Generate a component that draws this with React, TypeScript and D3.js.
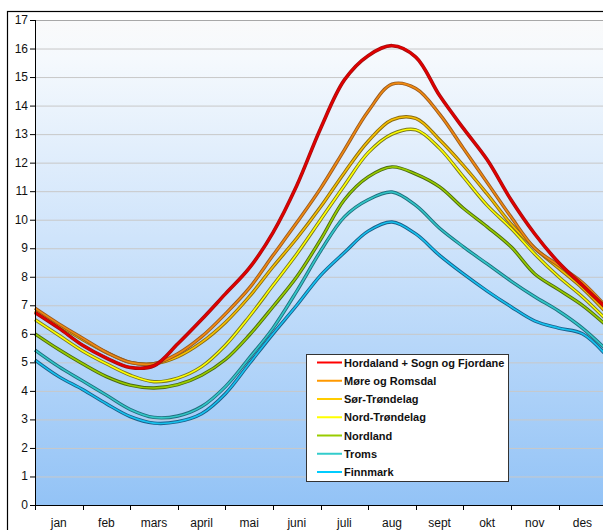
import React from 'react';
import * as d3 from 'd3';

const months = ['jan', 'feb', 'mars', 'april', 'mai', 'juni', 'juli', 'aug', 'sept', 'okt', 'nov', 'des'];
const yTicks = [0, 1, 2, 3, 4, 5, 6, 7, 8, 9, 10, 11, 12, 13, 14, 15, 16, 17];
// sample positions in months (0 = start of jan, 12 = end of des)
const samplePos = [0, 0.5, 1, 1.5, 2, 2.5, 3, 3.5, 4, 4.5, 5, 5.5, 6, 6.5, 7, 7.5, 8, 8.5, 9, 9.5, 10, 10.5, 11, 11.5, 12];

const hordaland = [6.75, 6.2, 5.6, 5.15, 4.82, 4.88, 5.65, 6.5, 7.4, 8.3, 9.55, 11.2, 13.2, 14.9, 15.75, 16.1, 15.7, 14.35, 13.2, 12.1, 10.7, 9.5, 8.5, 7.7, 6.9];
const more = [6.9, 6.35, 5.85, 5.35, 5.0, 4.95, 5.3, 5.9, 6.7, 7.6, 8.75, 9.9, 11.1, 12.45, 13.8, 14.75, 14.6, 13.7, 12.5, 11.3, 10.1, 9.0, 8.4, 7.8, 6.95];
const sorTrondelag = [6.8, 6.3, 5.8, 5.35, 5.0, 4.95, 5.2, 5.7, 6.4, 7.3, 8.35, 9.35, 10.45, 11.65, 12.75, 13.5, 13.55, 12.8, 11.9, 10.9, 9.85, 9.0, 8.3, 7.6, 6.75];
const nordTrondelag = [6.5, 5.95, 5.4, 4.95, 4.55, 4.32, 4.45, 4.85, 5.6, 6.6, 7.7, 8.8, 10.0, 11.2, 12.35, 13.0, 13.15, 12.5, 11.5, 10.5, 9.7, 8.8, 8.0, 7.3, 6.5];
const nordland = [6.0, 5.45, 4.95, 4.5, 4.2, 4.1, 4.22, 4.55, 5.1, 5.95, 6.95, 8.0, 9.3, 10.7, 11.5, 11.85, 11.6, 11.15, 10.4, 9.75, 9.05, 8.1, 7.55, 7.0, 6.3];
const troms = [5.43, 4.85, 4.35, 3.85, 3.35, 3.07, 3.12, 3.45, 4.15, 5.15, 6.2, 7.5, 8.9, 10.1, 10.7, 10.97, 10.5, 9.7, 9.05, 8.45, 7.85, 7.3, 6.8, 6.2, 5.45];
const finnmark = [5.08, 4.5, 4.05, 3.55, 3.1, 2.87, 2.92, 3.2, 3.9, 4.95, 6.0, 7.0, 8.05, 8.85, 9.6, 9.92, 9.5, 8.75, 8.1, 7.5, 6.95, 6.45, 6.2, 6.0, 5.25];

const seriesNames = ['Hordaland + Sogn og Fjordane', 'Møre og Romsdal', 'Sør-Trøndelag', 'Nord-Trøndelag', 'Nordland', 'Troms', 'Finnmark'];
const seriesValues = [hordaland, more, sorTrondelag, nordTrondelag, nordland, troms, finnmark];
const coreColors = ['#e00000', '#f08a10', '#f5c000', '#ffff00', '#99cc00', '#33c6c6', '#16c2ee'];
const edgeColors = ['#a01010', '#9a5a20', '#8a6a10', '#7a7a20', '#4a6a10', '#1f6f7f', '#1a5f8a'];
const legendColors = ['#ff0000', '#ff9900', '#ffcc00', '#ffff00', '#99cc00', '#33cccc', '#00ccff'];

const W = 603;
const H = 530;
const left = 35;
const top = 20;
const bottom = 505;
const monthW = 47.6;

export default function App() {
  const x = d3.scaleLinear().domain([0, 12]).range([left, left + 12 * monthW]);
  const y = d3.scaleLinear().domain([0, 17]).range([bottom, top]);
  const line = d3
    .line<[number, number]>()
    .x((d) => x(d[0]))
    .y((d) => y(d[1]))
    .curve(d3.curveCatmullRom.alpha(0.5));

  const font = "'Liberation Sans', Arial, sans-serif";
  const plotRight = W;
  const drawOrder = [6, 5, 4, 3, 2, 1, 0];

  return (
    <svg width={W} height={H} style={{ position: 'absolute', left: 0, top: 0, background: '#fff' }} fontFamily={font}>
      <defs>
        <linearGradient id="bg" x1="0" y1="0" x2="0" y2="1">
          <stop offset="0" stopColor="#fafafa" />
          <stop offset="0.08" stopColor="#f5f9fd" />
          <stop offset="0.45" stopColor="#cfe4fb" />
          <stop offset="1" stopColor="#93c3f6" />
        </linearGradient>
      </defs>
      {/* outer chart border */}
      <rect x={7.5} y={11.5} width={W} height={H} fill="#fff" stroke="#000" strokeWidth={1.2} />
      {/* plot background */}
      <rect x={left} y={top} width={plotRight - left} height={bottom - top} fill="url(#bg)" />
      {/* gridlines */}
      {yTicks.map((t) => (
        <line key={'g' + t} x1={left} x2={plotRight} y1={y(t) + 0.5} y2={y(t) + 0.5} stroke={t === 17 ? '#a8a8a8' : '#c8c8c8'} strokeWidth={1} />
      ))}
      {/* lines */}
      {drawOrder.map((i) => {
        const pts: [number, number][] = samplePos.map((p, k) => [p, seriesValues[i][k]]);
        const d = line(pts) || '';
        return (
          <g key={'s' + i}>
            <path d={d} fill="none" stroke={edgeColors[i]} strokeWidth={i === 0 ? 3.6 : 3.4} strokeLinejoin="round" />
            <path d={d} fill="none" stroke={coreColors[i]} strokeWidth={i === 0 ? 2.2 : 1.6} strokeLinejoin="round" />
          </g>
        );
      })}
      {/* y axis */}
      <line x1={left + 0.5} x2={left + 0.5} y1={top} y2={bottom} stroke="#000" strokeWidth={1} />
      {yTicks.map((t) => (
        <g key={'yt' + t}>
          <line x1={left - 5} x2={left} y1={y(t) + 0.5} y2={y(t) + 0.5} stroke="#000" />
          <text x={left - 7} y={y(t) + 4} textAnchor="end" fontSize={12} fill="#111">
            {t}
          </text>
        </g>
      ))}
      {/* x axis */}
      <line x1={left} x2={plotRight} y1={bottom + 0.5} y2={bottom + 0.5} stroke="#000" strokeWidth={1} />
      {d3.range(0, 13).map((i) => (
        <line key={'xt' + i} x1={Math.round(x(i)) + 0.5} x2={Math.round(x(i)) + 0.5} y1={bottom} y2={bottom + 5} stroke="#000" />
      ))}
      {months.map((m, i) => (
        <text key={m} x={x(i + 0.5)} y={527} textAnchor="middle" fontSize={12} fill="#111">
          {m}
        </text>
      ))}
      {/* legend */}
      <rect x={306.5} y={354.5} width={202} height={127} fill="#fff" stroke="#333" strokeWidth={1} />
      {seriesNames.map((n, i) => {
        const ly = 362.5 + i * 18.25;
        return (
          <g key={'l' + i}>
            <line x1={317} x2={342} y1={ly} y2={ly} stroke={legendColors[i]} strokeWidth={2} />
            <text x={344} y={ly + 4} fontSize={11} fontWeight="bold" fill="#111">
              {n}
            </text>
          </g>
        );
      })}
    </svg>
  );
}
